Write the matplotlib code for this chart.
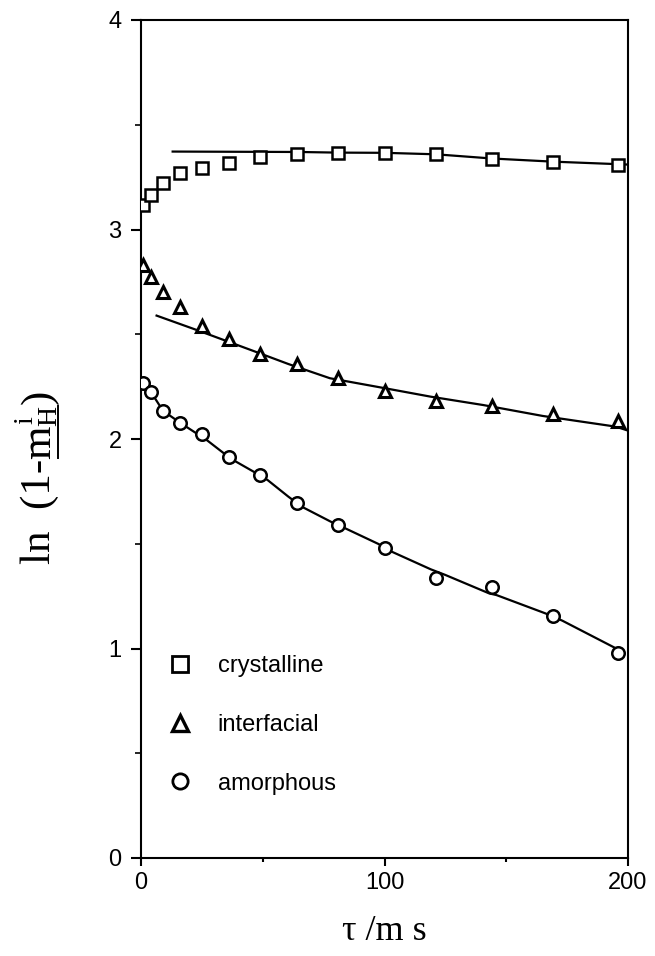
import matplotlib
matplotlib.use("Agg")
import matplotlib.pyplot as plt
from matplotlib.lines import Line2D
from matplotlib.transforms import IdentityTransform
from matplotlib.ticker import MultipleLocator

# ---------------- data ----------------
tau = [1, 4, 9, 16, 25, 36, 49, 64, 81, 100, 121, 144, 169, 196]
crystalline = [3.117, 3.165, 3.221, 3.268, 3.295, 3.319, 3.348, 3.359, 3.367,
               3.367, 3.360, 3.337, 3.324, 3.308]
interfacial = [2.831, 2.775, 2.703, 2.629, 2.539, 2.476, 2.404, 2.357, 2.293,
               2.229, 2.183, 2.156, 2.121, 2.087]
amorphous = [2.266, 2.226, 2.135, 2.078, 2.024, 1.912, 1.826, 1.696, 1.590,
             1.478, 1.335, 1.292, 1.157, 0.977]

# fitted curves
cryst_fit_t = [13, 65, 81, 100, 121, 144, 169, 200]
cryst_fit_y = [3.372, 3.370, 3.367, 3.366, 3.359, 3.339, 3.324, 3.310]
inter_fit_t = [6.4, 22, 46, 60.5, 77.6, 98, 119, 140.6, 165, 195, 200]
inter_fit_y = [2.589, 2.524, 2.421, 2.358, 2.290, 2.247, 2.202, 2.162, 2.110, 2.059, 2.040]
amor_fit_t = [1, 4, 9, 16, 27, 34, 39, 47, 52, 60.5, 66, 78, 84, 97.5, 103, 119,
              125, 143, 146, 166, 173, 196]
amor_fit_y = [2.266, 2.226, 2.135, 2.078, 1.995, 1.932, 1.892, 1.839, 1.804, 1.725,
              1.677, 1.605, 1.573, 1.499, 1.462, 1.378, 1.351, 1.263, 1.255, 1.168,
              1.133, 0.995]

labels = ["crystalline", "interfacial", "amorphous"]
x_ticks = [0, 100, 200]
y_ticks = [0, 1, 2, 3, 4]

W, H = 655, 956
fig = plt.figure(figsize=(W / 100, H / 100), dpi=100)
ax = fig.add_axes([141 / W, 1 - 858 / H, (628 - 141) / W, (858 - 20) / H])

lw = 1.6
ms = 9
mew = 1.8
ax.plot(cryst_fit_t, cryst_fit_y, color="black", lw=lw, zorder=2)
ax.plot(inter_fit_t, inter_fit_y, color="black", lw=lw, zorder=2)
ax.plot(amor_fit_t, amor_fit_y, color="black", lw=lw, zorder=2)

ax.plot(tau, crystalline, ls="none", marker="s", ms=ms, mfc="white", mec="black",
        mew=mew, zorder=3)
ax.plot(tau, interfacial, ls="none", marker="^", ms=ms, mfc="white", mec="black",
        mew=mew + 0.4, zorder=3)
ax.plot(tau, amorphous, ls="none", marker="o", ms=ms, mfc="white", mec="black",
        mew=mew, zorder=3)

ax.set_xlim(0, 200)
ax.set_ylim(0, 4)
ax.set_xticks(x_ticks)
ax.set_yticks(y_ticks)
ax.xaxis.set_minor_locator(MultipleLocator(50))
ax.yaxis.set_minor_locator(MultipleLocator(0.5))
for s in ax.spines.values():
    s.set_linewidth(1.5)
ax.tick_params(axis="both", which="major", direction="out", width=1.5, color="black")
ax.tick_params(axis="x", which="major", length=6, pad=4)
ax.tick_params(axis="y", which="major", length=7, pad=7)
ax.tick_params(axis="x", which="minor", direction="out", length=3, width=1.5)
ax.tick_params(axis="y", which="minor", direction="out", length=4, width=1.2)
for lab in ax.get_xticklabels() + ax.get_yticklabels():
    lab.set_fontfamily("Liberation Sans")
    lab.set_fontsize(17)

# legend
handles = [
    Line2D([], [], ls="none", marker="s", ms=11, mfc="white", mec="black", mew=2),
    Line2D([], [], ls="none", marker="^", ms=11, mfc="white", mec="black", mew=2.4),
    Line2D([], [], ls="none", marker="o", ms=11, mfc="white", mec="black", mew=2),
]
leg = ax.legend(handles, labels, loc="center left",
                bbox_to_anchor=((168 - 141) / 487, (858 - 725) / 838),
                frameon=False, prop={"family": "Liberation Sans", "size": 17},
                handlelength=1.0, handletextpad=1.1, labelspacing=1.55,
                borderpad=0, borderaxespad=0)

# x label
fig.text(384 / W, 1 - 932 / H, "τ /m s", ha="center", va="center",
         family="Liberation Serif", fontsize=26)

# y label built from pieces (with underline on m and H)
fig.canvas.draw()
r = fig.canvas.get_renderer()


def width(s, size):
    t = fig.text(0, 0, s, fontsize=size, family="Liberation Serif")
    w = t.get_window_extent(r).width
    t.remove()
    return w


big, small = 31, 20
base_x = 50          # baseline position (pixels from left)
y0 = H - 564         # start of text (display coords, bottom)


def put(s, y, dx, size):
    fig.text(base_x + dx, y, s, transform=IdentityTransform(), rotation=90,
             rotation_mode="anchor", ha="left", va="baseline", fontsize=size,
             family="Liberation Serif")


y = y0
put("ln  (1-", y, 0, big)
y += width("ln  (1-", big)
m_start = y
put("m", y, 0, big)
y += width("m", big)
put("H", y, 6, small)
put("i", y + 2, -18, small)
y += width("H", small)
u_end = y
y += 2
put(")", y, 0, big)
fig.add_artist(Line2D([base_x + 8, base_x + 8], [m_start + 1, u_end],
                      transform=IdentityTransform(), color="black", lw=1.4))

fig.savefig("out.png", dpi=100)
